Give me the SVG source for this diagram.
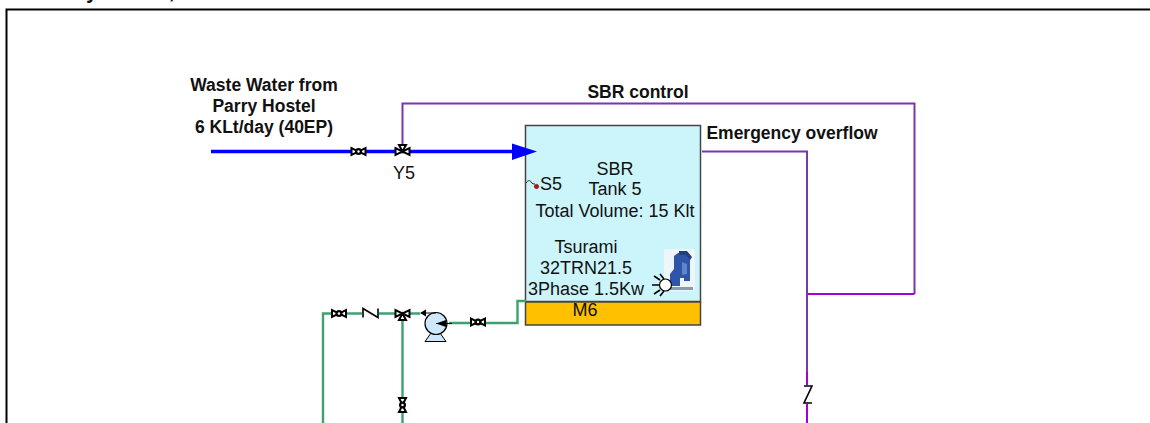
<svg xmlns="http://www.w3.org/2000/svg" width="1150" height="423" viewBox="0 0 1150 423">
<defs>
<style>
text{font-family:"Liberation Sans",Arial,sans-serif;font-size:18px;fill:#111;text-anchor:middle}
.b{font-weight:bold;font-size:17.500px}
.g{fill:none;stroke:#3fa170;stroke-width:2.400}
.p{fill:none;stroke:#7b35ad;stroke-width:2}
.m{fill:none;stroke:#a500d6;stroke-width:2}
.v{fill:#fff;stroke:#000;stroke-width:2}
.z{fill:none;stroke:#000;stroke-width:1.600}
</style>
<g id="valveH"><path class="v" d="M-7-3.500V3.500L7-3.500V3.500Z"/><circle r="3.500" fill="#000"/><circle r="1.200" fill="#fff"/></g>
<g id="valve3"><path class="v" d="M-7-3.500V3.500L7-3.500V3.500Z"/><path class="v" d="M0 0L-3.500-6.500H3.500Z"/></g>
</defs>
<rect x="0" y="0" width="1150" height="423" fill="#fff"/>
<text class="b" x="109" y="-2" style="font-size:21.300px">Parry Hostel,</text>
<path d="M6.500 423V9.500H1150" fill="none" stroke="#000" stroke-width="2"/>
<g id="tank">
<rect x="525.500" y="125.500" width="175" height="176" fill="#ccf5fb" stroke="#444" stroke-width="1.500"/>
<rect x="525.500" y="302" width="175" height="23" fill="#ffc000" stroke="#444" stroke-width="1.500"/>
<text x="615" y="175">SBR</text>
<text x="615" y="195">Tank 5</text>
<text x="615" y="217">Total Volume: 15 Klt</text>
<text x="586" y="253">Tsurami</text>
<text x="586" y="274">32TRN21.5</text>
<text x="586" y="295">3Phase 1.5Kw</text>
<text x="585" y="316">M6</text>
</g>
<g id="connectors">
<path d="M211 151.500H514" fill="none" stroke="#0000ff" stroke-width="3.500"/>
<path d="M512 143.500L537 151.500L512 160Z" fill="#0000ff"/>
<path class="p" d="M402.500 145V103.500H914.500V294"/>
<path class="m" d="M806 294H914.500"/>
<path class="p" d="M702 151.500H807V372"/>
<path class="m" d="M807 372V423"/>
<path class="g" d="M449 323H517.500V301H526"/>
<path class="g" d="M420 313.500H323V423"/>
<path class="g" d="M402.500 318V423"/>
</g>
<g id="sensor-S5">
<path d="M526 183c2-3 4-3 5-1s3 2 4 2" fill="none" stroke="#222" stroke-width="1"/>
<circle cx="536.500" cy="186.500" r="2.200" fill="#e00000" stroke="#333" stroke-width=".5"/>
<text x="551" y="190">S5</text>
</g>
<g id="pump-motor">
<rect x="664" y="249" width="31" height="42" fill="#eef6fa"/>
<path d="M674 256l4-3 9 1 3 5v22h-6v-3h-4v8h-10v-12l4-5z" fill="#2f55a8"/>
<path d="M679 251h8l5 6-2 3-4-5h-7z" fill="#223f80"/>
<path d="M666 287h27v3h-27z" fill="#8a9aa8"/>
<path d="M682 262l5 2v10l-5 1z" fill="#5d86cc"/>
<circle cx="665.500" cy="285" r="6" fill="#fff" stroke="#000" stroke-width="1.200"/>
<path class="z" d="M659 285H652M660 280L654 276M660 290L654 294M664 279L660 274M664 291L660 296"/>
</g>
<g id="pump">
<path d="M431 333L425 341.500H446L440 333Z" fill="#cde8fb" stroke="#000"/>
<circle cx="436" cy="323.500" r="11" fill="#cde8fb" stroke="#000" stroke-width="1.200"/>
<path d="M436 323.500H452" stroke="#000"/>
<path d="M436 323.500L446 320V327Z M420 313L426 309.500V316.500Z" fill="#000"/>
<path d="M425 313H436" stroke="#000"/>
</g>
<g id="valves">
<use href="#valveH" x="358.500" y="151.500"/>
<use href="#valve3" x="402.500" y="151.500"/>
<use href="#valveH" x="478" y="322"/>
<use href="#valveH" x="339" y="313.500"/>
<use href="#valve3" transform="translate(402.500 313.500) scale(1 -1)"/>
<use href="#valveH" transform="translate(402.500 405) rotate(90)"/>
</g>
<g id="checks">
<rect x="362" y="307" width="17" height="11" fill="#fff"/>
<path class="z" d="M363 317.500V308.500L378 317.500V308.500"/>
<rect x="800" y="385" width="14" height="19" fill="#fff"/>
<path class="z" d="M804 386H812L804 403H812"/>
</g>
<g id="labels">
<text class="b" x="264" y="91">Waste Water from</text>
<text class="b" x="264" y="112">Parry Hostel</text>
<text class="b" x="264" y="133">6 KLt/day (40EP)</text>
<text class="b" x="638" y="98">SBR control</text>
<text class="b" x="792" y="139">Emergency overflow</text>
<text x="404" y="179">Y5</text>
</g>
</svg>
